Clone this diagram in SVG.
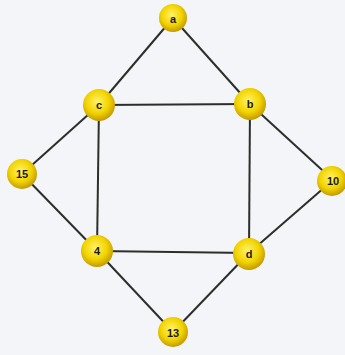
<svg xmlns="http://www.w3.org/2000/svg" width="345" height="355" viewBox="0 0 345 355">
<defs>
<radialGradient id="ball" cx="0.45" cy="0.4" r="0.6">
<stop offset="0" stop-color="#fff36a"/>
<stop offset="0.6" stop-color="#f2d400"/>
<stop offset="1" stop-color="#c49a00"/>
</radialGradient>
<style>
.edge{stroke:#2a2f2c;stroke-width:2;fill:none}
.node circle{fill:url(#ball)}
.node text{font-family:"Liberation Sans",Arial,sans-serif;font-weight:bold;font-size:11px;fill:#1e1a10;text-anchor:middle;dominant-baseline:central}
</style>
</defs>
<rect width="345" height="355" fill="#f3f5f8"/>
<g id="connectors">
<line class="edge" x1="173" y1="18" x2="99" y2="105"/>
<line class="edge" x1="173" y1="18" x2="250" y2="104"/>
<line class="edge" x1="99" y1="105" x2="250" y2="104"/>
<line class="edge" x1="99" y1="105" x2="22" y2="174"/>
<line class="edge" x1="99" y1="105" x2="97" y2="251"/>
<line class="edge" x1="250" y1="104" x2="333" y2="180"/>
<line class="edge" x1="250" y1="104" x2="249" y2="253"/>
<line class="edge" x1="22" y1="174" x2="97" y2="251"/>
<line class="edge" x1="97" y1="251" x2="249" y2="253"/>
<line class="edge" x1="333" y1="180" x2="249" y2="253"/>
<line class="edge" x1="97" y1="251" x2="173" y2="332"/>
<line class="edge" x1="249" y1="253" x2="173" y2="332"/>
</g>
<g id="node-a" class="node"><circle cx="173" cy="18" r="14"/><text x="173" y="19">a</text></g>
<g id="node-c" class="node"><circle cx="99" cy="105" r="16"/><text x="99" y="105">c</text></g>
<g id="node-b" class="node"><circle cx="250" cy="104" r="16"/><text x="250" y="104">b</text></g>
<g id="node-15" class="node"><circle cx="22" cy="174" r="15"/><text x="22" y="174">15</text></g>
<g id="node-10" class="node"><circle cx="332" cy="181" r="15"/><text x="333" y="181">10</text></g>
<g id="node-4" class="node"><circle cx="97" cy="251" r="16"/><text x="97" y="251">4</text></g>
<g id="node-d" class="node"><circle cx="249" cy="254" r="16"/><text x="249" y="254">d</text></g>
<g id="node-13" class="node"><circle cx="173" cy="332" r="15"/><text x="173" y="333">13</text></g>
</svg>
